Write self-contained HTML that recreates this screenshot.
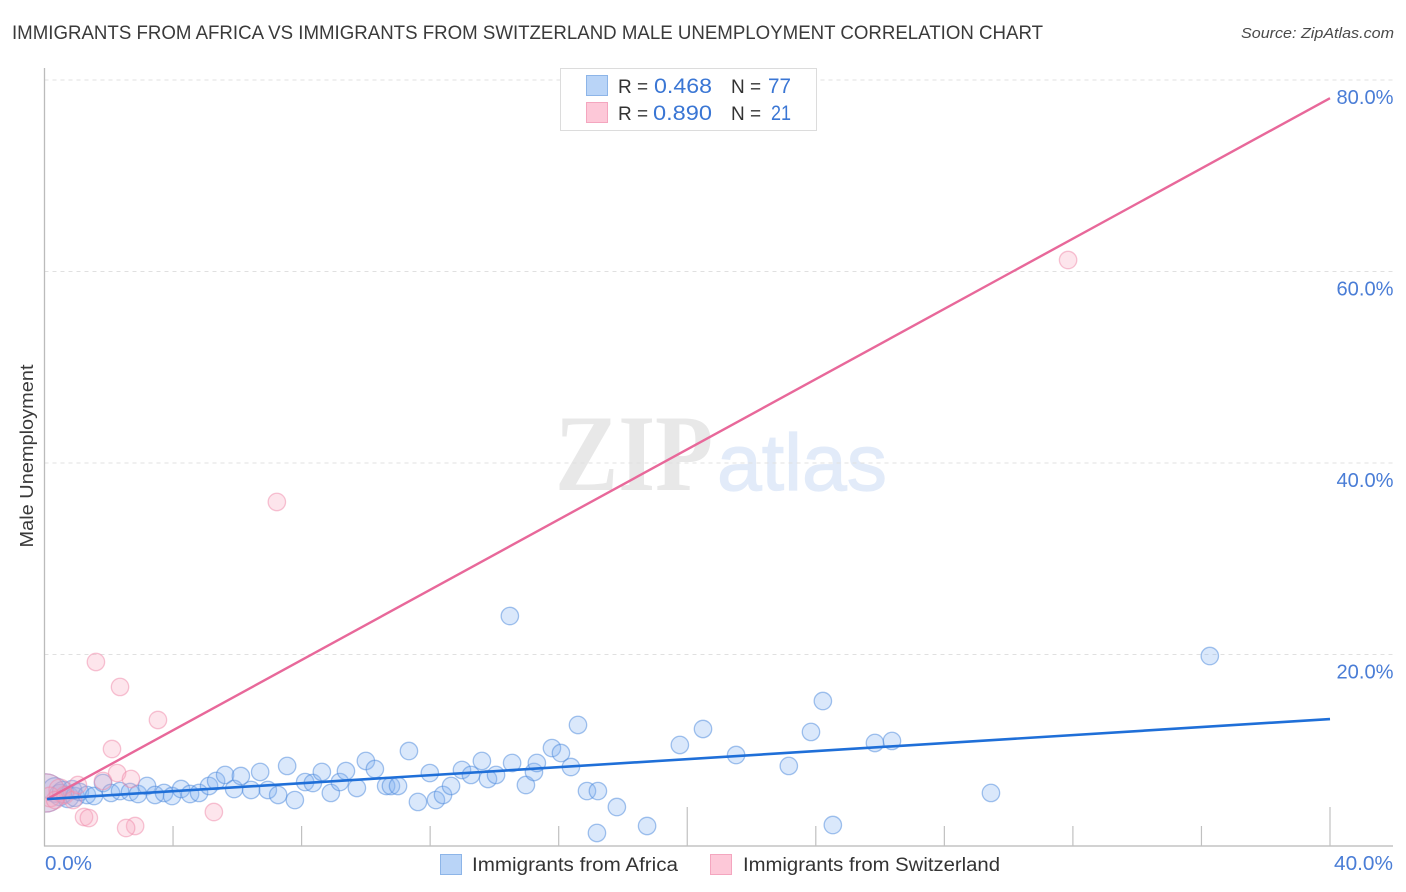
<!DOCTYPE html>
<html lang="en">
<head>
<meta charset="utf-8">
<title>Immigrants from Africa vs Immigrants from Switzerland Male Unemployment Correlation Chart</title>
<style>
html,body{margin:0;padding:0;background:#fff;}
svg{display:block;font-family:"Liberation Sans",sans-serif;}
</style>
</head>
<body>
<svg id="chart" xmlns="http://www.w3.org/2000/svg" width="1406" height="892" viewBox="0 0 1406 892">
  <defs>
    <clipPath id="plot-clip"><rect x="45" y="60" width="1350" height="786"></rect></clipPath>
  </defs>
  <text x="12" y="39" font-size="19" fill="#3a3a3a" textLength="1031" lengthAdjust="spacingAndGlyphs">IMMIGRANTS FROM AFRICA VS IMMIGRANTS FROM SWITZERLAND MALE UNEMPLOYMENT CORRELATION CHART</text>
  <text x="1394" y="38" font-size="15" font-style="italic" fill="#4a4a4a" text-anchor="end" textLength="153" lengthAdjust="spacingAndGlyphs">Source: ZipAtlas.com</text>

  <g>
    <text x="555" y="490" font-family="'Liberation Serif',serif" font-weight="bold" font-size="109" fill="#e8e8e8" textLength="158" lengthAdjust="spacingAndGlyphs">ZIP</text>
    <text x="717" y="490" font-size="80" fill="#e2ebf9" stroke="#e2ebf9" stroke-width="1.2" textLength="170" lengthAdjust="spacingAndGlyphs">atlas</text>
  </g>

  <g id="grid"></g>
  <g id="axes"></g>
  <g id="points" clip-path="url(#plot-clip)"></g>
  <g id="trends"></g>
  <g id="labels"></g>

  <text transform="translate(33,456) rotate(-90)" font-size="18.5" fill="#3a3a3a" text-anchor="middle" textLength="183" lengthAdjust="spacingAndGlyphs">Male Unemployment</text>

  <g>
    <rect x="560.5" y="68.5" width="256" height="62" fill="#fff" stroke="#dcdcdc"></rect>
    <rect x="586.5" y="75.5" width="21" height="20" fill="#b9d4f7" stroke="#8db5e8"></rect>
    <rect x="586.5" y="102.5" width="21" height="20" fill="#fdc8d8" stroke="#f4a6bf"></rect>
    <text x="618" y="93" font-size="19" fill="#333">R =</text>
    <text x="654" y="93" font-size="21" fill="#3a76d4" textLength="58" lengthAdjust="spacingAndGlyphs">0.468</text>
    <text x="731" y="93" font-size="19" fill="#333">N =</text>
    <text x="768" y="93" font-size="21" fill="#3a76d4" textLength="23" lengthAdjust="spacingAndGlyphs">77</text>
    <text x="618" y="120" font-size="19" fill="#333">R =</text>
    <text x="653" y="120" font-size="21" fill="#3a76d4" textLength="59" lengthAdjust="spacingAndGlyphs">0.890</text>
    <text x="731" y="120" font-size="19" fill="#333">N =</text>
    <text x="771" y="120" font-size="21" fill="#3a76d4" textLength="20" lengthAdjust="spacingAndGlyphs">21</text>
  </g>

  <g>
    <rect x="440.5" y="854.5" width="21" height="20" fill="#b9d4f7" stroke="#8db5e8"></rect>
    <text x="472" y="871" font-size="19" fill="#333" textLength="206" lengthAdjust="spacingAndGlyphs">Immigrants from Africa</text>
    <rect x="710.5" y="854.5" width="21" height="20" fill="#fdc8d8" stroke="#f4a6bf"></rect>
    <text x="743" y="871" font-size="19" fill="#333" textLength="257" lengthAdjust="spacingAndGlyphs">Immigrants from Switzerland</text>
  </g>
</svg>

<script>
const yTickValues = [20, 40, 60, 80];
const yTickLabels = ["20.0%", "40.0%", "60.0%", "80.0%"];
const xTickValues = [4, 8, 12, 16, 20, 24, 28, 32, 36, 40];
const xEndValues = [0, 40];
const xEndLabels = ["0.0%", "40.0%"];

const africaX = [0.05,0.33,0.48,0.58,0.73,0.86,0.95,1.10,1.32,1.54,1.82,2.07,2.35,2.66,2.91,3.19,3.44,3.72,3.97,4.25,4.53,4.81,5.12,5.34,5.62,5.90,6.11,6.43,6.71,6.95,7.27,7.55,7.79,8.11,8.35,8.63,8.91,9.19,9.38,9.72,10.00,10.28,10.63,10.78,11.00,11.34,11.62,11.99,12.18,12.40,12.65,12.99,13.27,13.61,13.80,14.05,14.48,14.55,14.98,15.23,15.32,15.79,16.07,16.38,16.60,16.88,17.22,17.19,17.81,18.75,19.77,20.49,21.52,23.16,23.85,24.22,24.53,25.84,26.37,29.45,36.26];
const africaY = [5.54,5.85,5.33,5.64,5.12,5.85,5.12,5.64,5.33,5.22,6.58,5.54,5.74,5.64,5.43,6.27,5.33,5.54,5.22,5.95,5.43,5.54,6.27,6.79,7.42,5.95,7.31,5.85,7.73,5.85,5.33,8.36,4.80,6.68,6.58,7.73,5.54,6.68,7.83,6.06,8.88,8.04,6.27,6.27,6.27,9.92,4.60,7.62,4.80,5.33,6.27,7.94,7.42,8.88,7.00,7.42,24.02,8.67,6.37,7.73,8.67,10.23,9.71,8.25,12.64,5.74,5.74,1.36,4.07,2.09,10.55,12.22,9.50,8.36,11.91,15.14,2.19,10.76,10.97,5.54,19.84];
const africaWeights = [4.8, 2.0, 1.5, 1.5, 1.5, 1.2, 1.2];

const switzerlandX = [0.05,0.48,0.17,0.64,0.89,1.04,0.33,1.23,1.38,1.82,2.26,2.69,1.60,2.35,3.53,2.10,5.27,2.82,2.54,7.23,31.85];
const switzerlandY = [5.54,5.85,5.12,5.33,4.80,6.37,4.80,3.03,2.92,6.79,7.62,7.00,19.22,16.61,13.16,10.13,3.55,2.09,1.88,35.93,61.20];
const switzerlandWeights = [4.8, 1.6, 1.3];

const trendX = [0.08, 40];
const africaTrendY = [4.9, 13.26];
const switzerlandTrendY = [4.9, 78.1];

const NS = "http://www.w3.org/2000/svg";
const BASE_R = 8.7;
function xScale(v) { return 44.5 + v * 32.1375; }
function yScale(v) { return 846 - v * 9.575; }
function make(tag, attrs, parent) {
  const el = document.createElementNS(NS, tag);
  for (const k in attrs) el.setAttribute(k, attrs[k]);
  parent.appendChild(el);
  return el;
}

const grid = document.getElementById("grid");
const axes = document.getElementById("axes");
const labels = document.getElementById("labels");
const points = document.getElementById("points");
const trends = document.getElementById("trends");

yTickValues.forEach(function (v, i) {
  const line = make("line", {x1: 44.5, x2: 1393, y1: yScale(v), y2: yScale(v), stroke: "#e0e0e0", "stroke-width": 1, "stroke-dasharray": "4 4"}, grid);
  
  
  const t = make("text", {x: 1393.5, y: yScale(v) + 24, "font-size": 20, fill: "#4a7dd6", "text-anchor": "end", textLength: 57, lengthAdjust: "spacingAndGlyphs"}, labels);
  t.textContent = yTickLabels[i];
  
  
});

const yAxisLine = make("line", {x1: 44.5, x2: 44.5, y1: 68, y2: 846.5, stroke: "#bbbbbb", "stroke-width": 1.3}, axes);


const xAxisLine = make("line", {x1: 44, x2: 1393, y1: 846, y2: 846, stroke: "#b8b8b8", "stroke-width": 1.3}, axes);



xTickValues.forEach(function (v) {
  const major = v % 20 === 0;
  const tick = make("line", {x1: xScale(v), x2: xScale(v), y1: major ? 807 : 826, y2: 846, stroke: "#c0c0c0", "stroke-width": 1.2}, axes);
  
  
});

xEndValues.forEach(function (v, i) {
  const first = i === 0;
  const t = make("text", {x: first ? 45 : xScale(v) + 63, y: 870, "font-size": 20, fill: "#4a7dd6", "text-anchor": first ? "start" : "end", textLength: first ? 47 : 59, lengthAdjust: "spacingAndGlyphs"}, labels);
  t.textContent = xEndLabels[i];
  
  
});

function drawSeries(xs, ys, weights, fill, stroke, name) {
  xs.forEach(function (x, i) {
    const w = weights[i] === undefined ? 1 : weights[i];
    const c = make("circle", {cx: xScale(x), cy: yScale(ys[i]), r: BASE_R * Math.sqrt(w), fill: fill, "fill-opacity": 0.3, stroke: stroke, "stroke-opacity": 0.5, "stroke-width": 1.3}, points);
    
    
  });
}
drawSeries(africaX, africaY, africaWeights, "#86b4f2", "#4a88dc", "africa-point");
drawSeries(switzerlandX, switzerlandY, switzerlandWeights, "#f9a8c0", "#f08aa9", "switzerland-point");

const switzerlandLine = make("line", {x1: xScale(trendX[0]), x2: xScale(trendX[1]), y1: yScale(switzerlandTrendY[0]), y2: yScale(switzerlandTrendY[1]), stroke: "#e8689a", "stroke-width": 2.4}, trends);


const africaLine = make("line", {x1: xScale(trendX[0]), x2: xScale(trendX[1]), y1: yScale(africaTrendY[0]), y2: yScale(africaTrendY[1]), stroke: "#1f6fd8", "stroke-width": 2.6}, trends);


</script>
</body>
</html>
